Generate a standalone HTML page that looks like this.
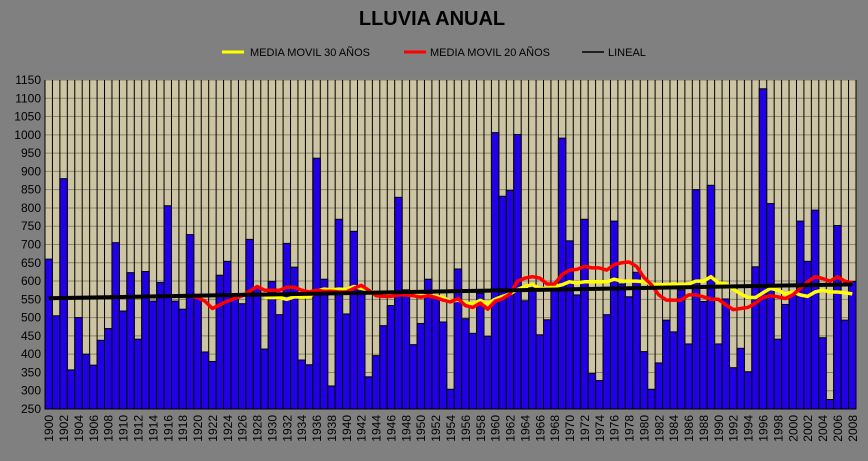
<!DOCTYPE html>
<html><head><meta charset="utf-8"><style>
html,body{margin:0;padding:0;background:#808080;}
svg{display:block;font-family:"Liberation Sans",sans-serif;}
</style></head><body>
<svg id="chart" width="868" height="461" xmlns="http://www.w3.org/2000/svg">
<rect x="0" y="0" width="868" height="461" fill="#808080"/>
<text x="432" y="25" text-anchor="middle" font-size="20" font-weight="bold" fill="#000">LLUVIA ANUAL</text>
<g>
<line x1="222" y1="52" x2="244" y2="52" stroke="#ffff00" stroke-width="3"/>
<text x="250" y="56" font-size="11" fill="#000">MEDIA MOVIL 30 AÑOS</text>
<line x1="404" y1="52" x2="426" y2="52" stroke="#ff0000" stroke-width="3"/>
<text x="430" y="56" font-size="11" fill="#000">MEDIA MOVIL 20 AÑOS</text>
<line x1="582" y1="52" x2="604" y2="52" stroke="#000" stroke-width="1.5"/>
<text x="608" y="56" font-size="11" fill="#000">LINEAL</text>
</g>
<g id="plot"></g>
</svg>
<script>
const startYear = 1900;
const rainfall = [660,505,880,357,500,400,370,438,470,705,518,623,441,626,545,596,806,545,523,727,
560,406,380,616,654,560,538,714,580,414,599,508,703,638,384,371,936,605,313,769,
510,736,580,338,396,478,533,829,576,426,484,605,560,488,304,633,497,457,567,449,
1006,832,848,1001,546,590,453,494,580,991,710,562,769,347,328,508,764,592,557,624,
407,304,376,493,461,576,428,850,544,862,428,551,363,416,352,639,1126,812,441,536,
570,764,654,794,445,276,752,493,599];
const ma20Start = 1919;
const ma20 = [560,555,545,525,535,545,552,560,572,585,575,575,575,583,583,575,570,575,572,572,
570,570,580,588,575,560,558,558,562,562,560,556,560,555,548,543,552,533,528,540,
523,545,552,565,600,608,612,608,592,592,618,630,632,640,636,636,630,645,650,652,
640,610,590,562,548,548,548,562,562,557,550,550,535,522,525,528,540,555,560,557,
552,562,580,598,612,607,600,612,600,595];
const ma30Start = 1929;
const ma30 = [555,555,555,550,557,556,557,572,578,576,578,577,585,580,575,565,565,563,565,570,
565,560,560,558,555,545,548,540,538,547,538,550,558,565,577,585,590,580,580,585,
590,598,595,598,598,598,598,605,600,600,600,598,592,590,590,592,590,592,600,600,
612,595,593,578,565,555,555,568,580,575,565,570,562,558,570,575,570,570,568,565];
const yTicks = [250,300,350,400,450,500,550,600,650,700,750,800,850,900,950,1000,1050,1100,1150];

const NS = "http://www.w3.org/2000/svg";
const plot = document.getElementById('plot');
const X0 = 45, X1 = 856, Y0 = 80, Y1 = 409, VMIN = 250, VMAX = 1150;
const n = rainfall.length;
const slot = (X1 - X0) / n;
function xPos(i){ return X0 + i * slot; }
function xCenter(year){ return X0 + (year - startYear + 0.5) * slot; }
function yPos(v){ return Y1 - (v - VMIN) / (VMAX - VMIN) * (Y1 - Y0); }
function mk(tag, attrs){ const e = document.createElementNS(NS, tag); for (const k in attrs) e.setAttribute(k, attrs[k]); plot.appendChild(e); return e; }

const bg = mk('rect', {x:X0, y:Y0, width:X1-X0, height:Y1-Y0, fill:'#cdc4a3'});



yTicks.forEach(t => {
  const g = mk('line', {x1:X0, x2:X1, y1:yPos(t), y2:yPos(t), stroke:'#8a8470', 'stroke-width':1});
  
  
  const l = mk('text', {x:41, y:yPos(t)+4, 'text-anchor':'end', 'font-size':12, fill:'#000'});
  l.textContent = t;
  
  
});

for (let i = 0; i <= n; i++) {
  const v = mk('line', {x1:xPos(i), x2:xPos(i), y1:Y0, y2:Y1, stroke:'#000', 'stroke-width':1});
  
  
}

rainfall.forEach((val, i) => {
  const y = yPos(val);
  const b = mk('rect', {x:xPos(i), y:y, width:slot, height:Y1-y, fill:'#2200e6', stroke:'#000', 'stroke-width':1});
  
  
});

function series(arr, start, color, w, name){
  const pts = arr.map((v, i) => xCenter(start + i).toFixed(1) + ',' + yPos(v).toFixed(1)).join(' ');
  const p = mk('polyline', {points:pts, fill:'none', stroke:color, 'stroke-width':w, 'stroke-linejoin':'round'});
  
  
}
series(ma30, ma30Start, '#ffff00', 3.5, 'moving-average-30');
series(ma20, ma20Start, '#ff0000', 3.5, 'moving-average-20');

// linear regression trend
let sx=0, sy=0, sxx=0, sxy=0;
rainfall.forEach((v,i)=>{ sx+=i; sy+=v; sxx+=i*i; sxy+=i*v; });
const slope = (n*sxy - sx*sy) / (n*sxx - sx*sx);
const icpt = (sy - slope*sx) / n;
const tr = mk('line', {x1:xCenter(startYear), y1:yPos(icpt), x2:xCenter(startYear+n-1), y2:yPos(icpt+slope*(n-1)), stroke:'#000', 'stroke-width':4});



for (let i = 0; i < n; i += 2) {
  const cx = xCenter(startYear + i);
  const t = mk('text', {x:0, y:0, 'font-size':12, fill:'#000', 'text-anchor':'end', transform:'translate(' + (cx+4.5) + ',415) rotate(-90)'});
  t.textContent = startYear + i;
  
  
}
</script>
</body></html>
